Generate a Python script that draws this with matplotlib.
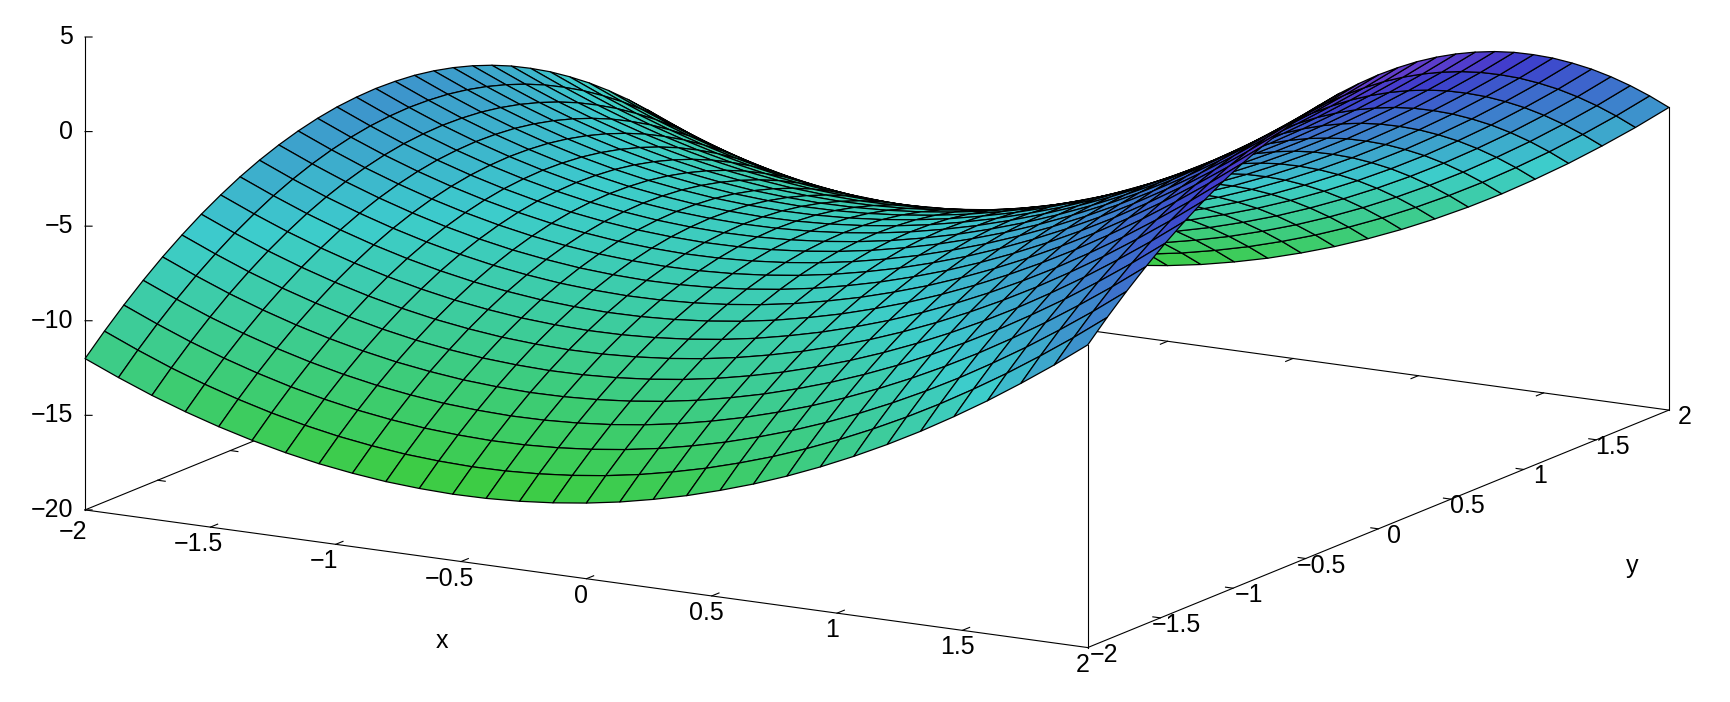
import matplotlib
matplotlib.use('Agg')
import matplotlib.pyplot as plt
import numpy as np
from matplotlib.colors import LinearSegmentedColormap, Normalize
from mpl_toolkits.mplot3d import proj3d

plt.rcParams['font.family'] = ['Liberation Sans', 'DejaVu Sans']

# height of the surface along y=0, one value per grid line
edge_x = [-4.0, -4.76, -5.46, -6.08, -6.63, -7.11, -7.52, -7.86, -8.12, -8.32, -8.44,
          -8.50, -8.48, -8.39, -8.23, -8.0, -7.70, -7.32, -6.88, -6.36, -5.78,
          -5.12, -4.39, -3.59, -2.72, -1.78, -0.76, 0.32, 1.48, 2.70, 4.0]
# how far the surface drops along y, same for every x
drop_y = [-8.0, -6.97, -6.01, -5.12, -4.30, -3.56, -2.88, -2.28, -1.74, -1.28, -0.89,
          -0.57, -0.32, -0.14, -0.04, 0.0, -0.04, -0.14, -0.32, -0.57, -0.89,
          -1.28, -1.74, -2.28, -2.88, -3.56, -4.30, -5.12, -6.01, -6.97, -8.0]

x_ticks = [-2, -1.5, -1, -0.5, 0, 0.5, 1, 1.5, 2]
y_ticks = [-2, -1.5, -1, -0.5, 0, 0.5, 1, 1.5, 2]
z_ticks = [-20, -15, -10, -5, 0, 5]
palette = ['#3dcc3d', '#3dcccc', '#3d3dcc', '#6d3dcc']
palette_pos = [0, 0.43, 0.857, 1]

W, H = 1731, 702
FS = 18


def lab(v):
    return ('%g' % v).replace('-', '\u2212')


fig = plt.figure(figsize=(W / 100, H / 100), dpi=100)
ax = fig.add_axes([0, 0, 1, 1], projection='3d', proj_type='ortho', computed_zorder=False)
ax.set_axis_off()
ax.patch.set_visible(False)
ax.set_box_aspect((1, 1, 0.42))
ax.view_init(elev=13.7, azim=-59.9)
ax.set_xlim(-2, 2, view_margin=0)
ax.set_ylim(-2, 2, view_margin=0)
ax.set_zlim(-20, 5, view_margin=0)


# 画面上の位置 (pixel)
def px(x, y, z):
    xp, yp, _ = proj3d.proj_transform(x, y, z, ax.get_proj())
    return ax.transData.transform((xp, yp))


def place(cx, cy, s):
    ax.set_position([(cx - s / 2) / W, (cy - s / 2) / H, s / W, s / H])
    ax.apply_aspect()


# put the box corners where they are in the reference
ta = np.array([85.0, H - 509.0])
tb = np.array([1669.0, H - 411.0])
cx, cy, s = W / 2, H / 2, 702.0
for _ in range(4):
    place(cx, cy, s)
    a = px(-2, -2, -20)
    b = px(2, 2, -20)
    s = s * np.hypot(*(tb - ta)) / np.hypot(*(b - a))
    place(cx, cy, s)
    a = px(-2, -2, -20)
    b = px(2, 2, -20)
    d = (ta + tb) / 2 - (a + b) / 2
    cx += d[0]
    cy += d[1]
place(cx, cy, s)

x_grid = np.linspace(-2, 2, len(edge_x))
y_grid = np.linspace(-2, 2, len(drop_y))
X, Y = np.meshgrid(x_grid, y_grid)
Z = np.add.outer(drop_y, edge_x)

cmap = LinearSegmentedColormap.from_list('hsvpart', list(zip(palette_pos, palette)))
ax.plot_surface(X, Y, Z, rstride=1, cstride=1, cmap=cmap, norm=Normalize(-16.5, 4),
                shade=False, edgecolor='k', linewidth=0.9, antialiased=True, zorder=2)

# box
kw = dict(color='k', lw=0.8, zorder=1)
ax.plot([-2, 2], [-2, -2], [-20, -20], **kw)
ax.plot([-2, 2], [2, 2], [-20, -20], **kw)
ax.plot([-2, -2], [-2, 2], [-20, -20], **kw)
ax.plot([2, 2], [-2, 2], [-20, -20], **kw)
ax.plot([-2, -2], [-2, -2], [-20, 5], **kw)
ax.plot([2, 2], [-2, -2], [-20, Z[0, -1]], **kw)
ax.plot([2, 2], [2, 2], [-20, Z[-1, -1]], **kw)

# ticks
for v in x_ticks[1:-1]:
    ax.plot([v, v], [-2, -1.95], [-20, -20], **kw)
    ax.plot([v, v], [2, 1.95], [-20, -20], **kw)
for v in y_ticks[1:-1]:
    ax.plot([-2, -1.97], [v, v], [-20, -20], **kw)
    ax.plot([2, 1.97], [v, v], [-20, -20], **kw)
for v in z_ticks:
    ax.plot([-2, -1.979], [-2, -1.988], [v, v], **kw)

# labels
for v in x_ticks:
    p = px(v, -2, -20)
    dx = -12 if v < 0 else -5
    dy = -22 if v == -2 else -17   # -2 sits right under the -20 of the z axis
    fig.text((p[0] + dx) / W, (p[1] + dy) / H, lab(v), ha='center', va='center', fontsize=FS)
for v in y_ticks:
    p = px(2, v, -20)
    fig.text((p[0] + 16) / W, (p[1] - 7) / H, lab(v), ha='center', va='center', fontsize=FS)
for v in z_ticks:
    p = px(-2, -2, v)
    fig.text((p[0] - 12) / W, p[1] / H, lab(v), ha='right', va='center', fontsize=FS)
fig.text(442 / W, 1 - 641 / H, 'x', ha='center', va='center', fontsize=FS)
fig.text(1632 / W, 1 - 566 / H, 'y', ha='center', va='center', fontsize=FS)

fig.savefig('out.png', dpi=100)
